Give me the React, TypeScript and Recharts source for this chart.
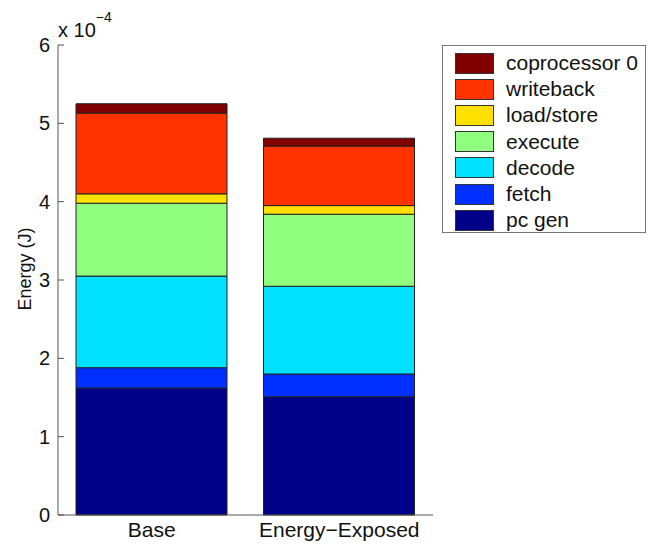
import { Bar, BarChart, Label, XAxis, YAxis } from "recharts";

const FONT = '"Liberation Sans", Arial, Helvetica, sans-serif';

// energy per pipeline stage, in units of 1e-4 J
const categories = ["Base", "Energy\u2212Exposed"];
const pcGen = [1.62, 1.51];
const fetchStage = [0.26, 0.29];
const decode = [1.17, 1.12];
const execute = [0.93, 0.92];
const loadStore = [0.12, 0.11];
const writeback = [1.03, 0.76];
const coprocessor0 = [0.12, 0.1];
const yTicks = [0, 1, 2, 3, 4, 5, 6];

const SERIES = [
  { key: "pc gen", values: pcGen, color: "#000088" },
  { key: "fetch", values: fetchStage, color: "#0030ff" },
  { key: "decode", values: decode, color: "#00e0ff" },
  { key: "execute", values: execute, color: "#90ff80" },
  { key: "load/store", values: loadStore, color: "#ffe000" },
  { key: "writeback", values: writeback, color: "#ff3300" },
  { key: "coprocessor 0", values: coprocessor0, color: "#800000" },
];

const data = categories.map((name, i) => {
  const row: Record<string, string | number> = { name };
  SERIES.forEach((s) => {
    row[s.key] = s.values[i];
  });
  return row;
});

const AXIS_COLOR = "#555";

function YTick(props: any) {
  const { x, y, payload } = props;
  return (
    <g>
      <line x1={x + 8} x2={x + 14} y1={y} y2={y} stroke={AXIS_COLOR} strokeWidth={1} />
      <text
        x={x}
        y={y}
        dy={7}
        textAnchor="end"
        fontFamily={FONT}
        fontSize={20}
        fill="#111"
      >
        {payload.value}
      </text>
    </g>
  );
}

function XTick(props: any) {
  const { x, y, payload } = props;
  return (
    <text
      x={x}
      y={y}
      dy={18}
      textAnchor="middle"
      fontFamily={FONT}
      fontSize={21}
      fill="#111"
    >
      {payload.value}
    </text>
  );
}

// MATLAB-style legend box, top entry first
function LegendBox() {
  const items = [...SERIES].reverse();
  return (
    <div
      style={{
        position: "absolute",
        left: 442,
        top: 45,
        width: 204,
        height: 188,
        border: "1px solid #777",
        background: "#fff",
        boxSizing: "border-box",
        paddingTop: 4,
        paddingLeft: 12,
        fontFamily: FONT,
        fontSize: 21,
        color: "#111",
      }}
    >
      {items.map((s) => (
        <div
          key={s.key}
          style={{ display: "flex", alignItems: "center", height: 26.2 }}
        >
          <span
            style={{
              display: "inline-block",
              width: 37,
              height: 19,
              background: s.color,
              border: "1px solid #333",
              marginRight: 12,
            }}
          />
          <span style={{ lineHeight: "22px" }}>{s.key}</span>
        </div>
      ))}
    </div>
  );
}

export default function App() {
  return (
    <div
      style={{
        position: "absolute",
        left: 0,
        top: 0,
        width: 650,
        height: 545,
        overflow: "hidden",
        background: "#fff",
      }}
    >
      <BarChart
        width={650}
        height={545}
        data={data}
        margin={{ top: 45, right: 217, bottom: 0, left: 0 }}
        barSize={151}
      >
        <XAxis
          dataKey="name"
          tick={<XTick />}
          tickLine={false}
          tickSize={0}
          tickMargin={4}
          height={30}
          stroke={AXIS_COLOR}
        />
        <YAxis
          domain={[0, 6]}
          ticks={yTicks}
          interval={0}
          width={58}
          tick={<YTick />}
          tickLine={false}
          tickSize={0}
          tickMargin={8}
          stroke={AXIS_COLOR}
        >
          <Label
            content={() => (
              <text
                x={31}
                y={269}
                transform="rotate(-90 31 269)"
                textAnchor="middle"
                fontFamily={FONT}
                fontSize={18}
                fill="#111"
              >
                Energy (J)
              </text>
            )}
          />
          <Label
            content={() => (
              <text x={58} y={37} fontFamily={FONT} fontSize={20} fill="#111">
                x 10
                <tspan fontSize={14} dy={-15}>
                  {"\u22124"}
                </tspan>
              </text>
            )}
          />
        </YAxis>
        {SERIES.map((s) => (
          <Bar
            key={s.key}
            dataKey={s.key}
            stackId="energy"
            fill={s.color}
            stroke="#222"
            strokeWidth={1}
            isAnimationActive={false}
          />
        ))}
      </BarChart>
      <LegendBox />
    </div>
  );
}
